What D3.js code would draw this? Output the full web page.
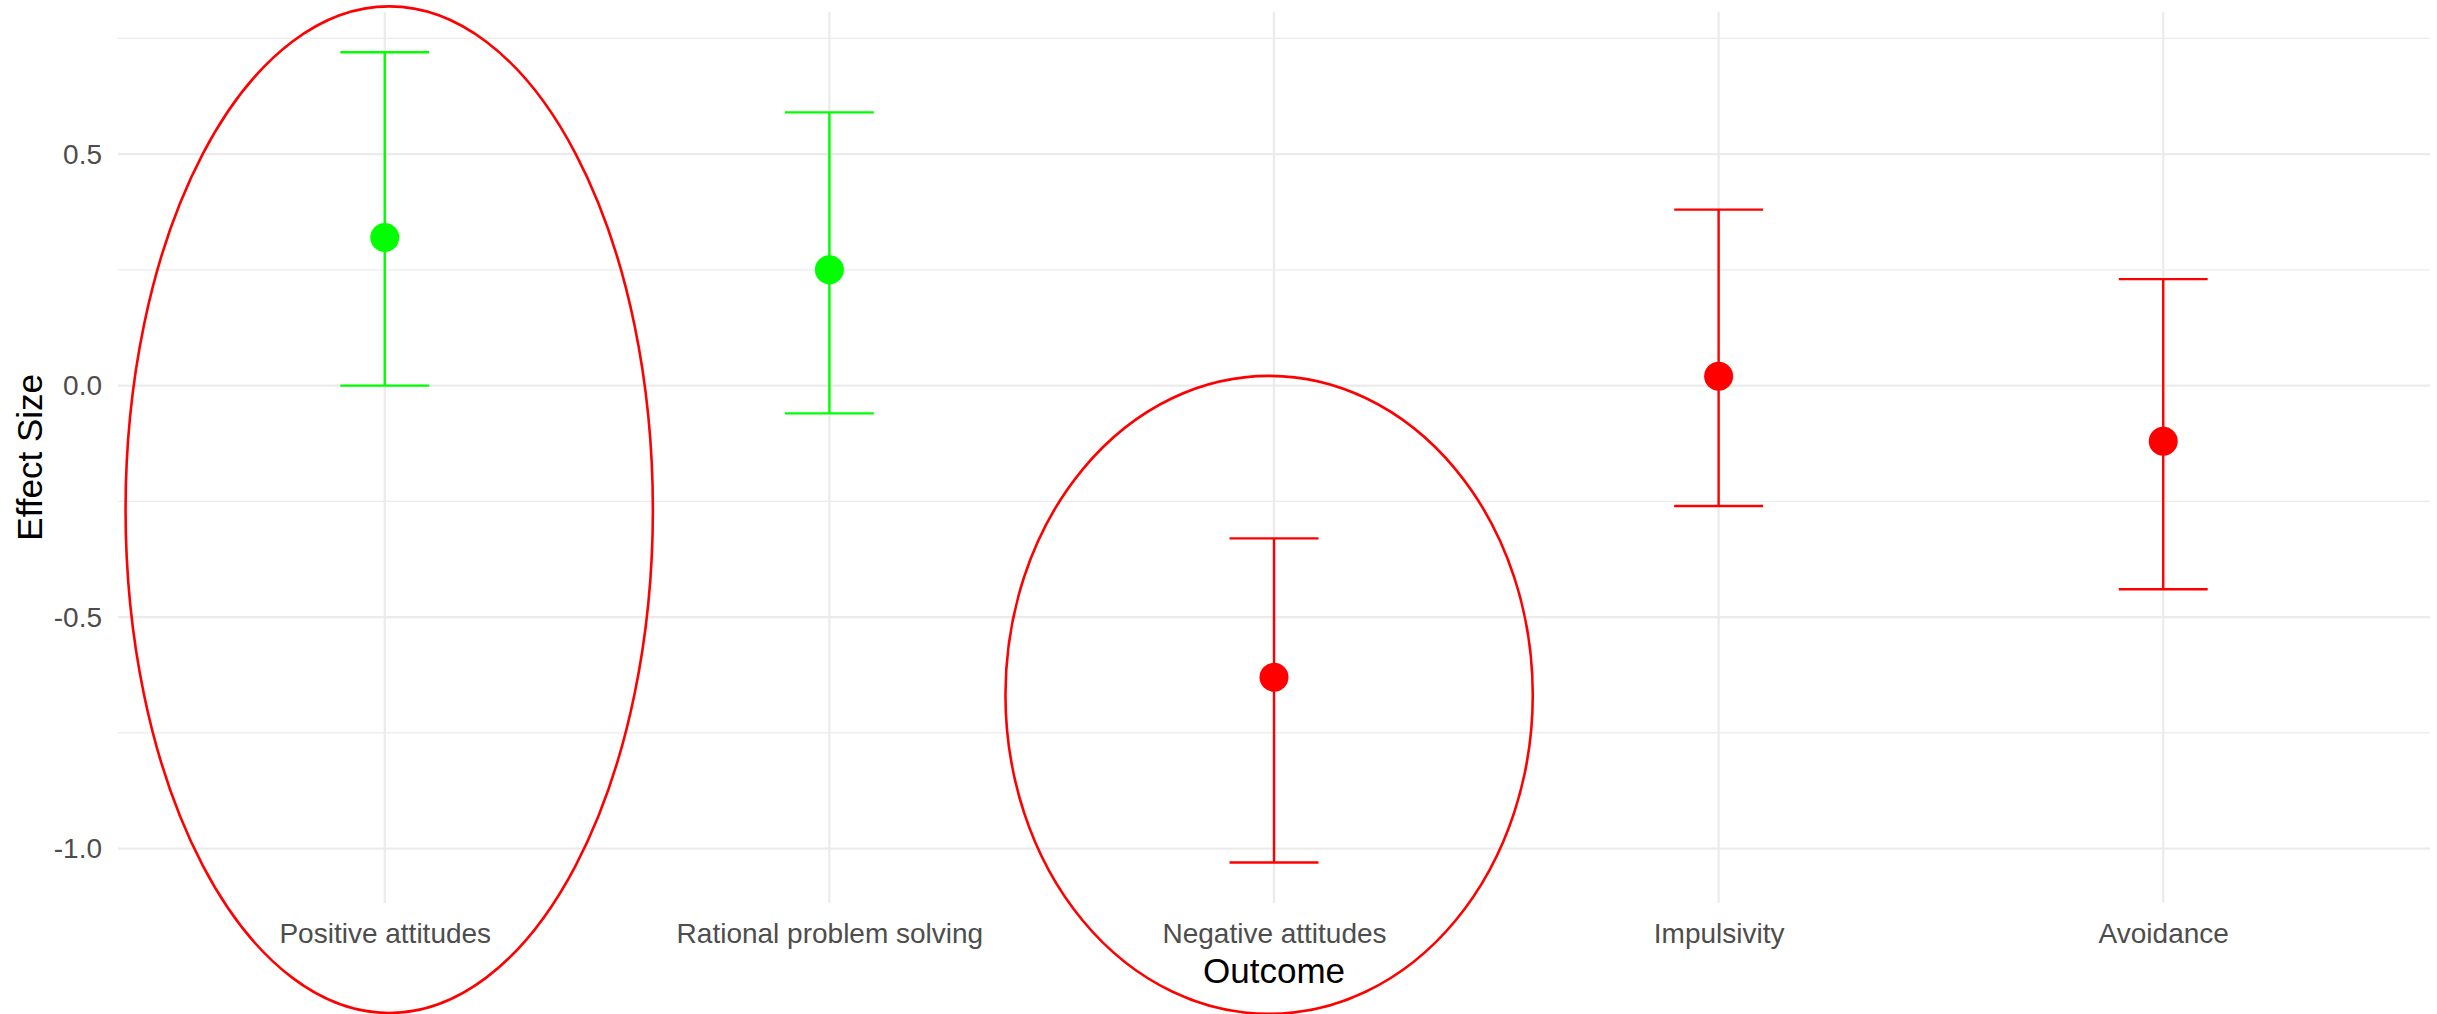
<!DOCTYPE html>
<html>
<head>
<meta charset="utf-8">
<script src="https://cdn.jsdelivr.net/npm/d3@7"></script>
<style>
  html, body { margin: 0; padding: 0; background: #ffffff; }
  svg { display: block; font-family: "Liberation Sans", Arial, sans-serif; }
</style>
</head>
<body>
<svg id="chart" width="2437" height="1014"></svg>
<script>
// Outcomes and their pooled effect sizes with 95% confidence limits
const outcomes = ["Positive attitudes", "Rational problem solving", "Negative attitudes", "Impulsivity", "Avoidance"];
const effect = [0.32, 0.25, -0.63, 0.02, -0.12];
const lower = [0.00, -0.06, -1.03, -0.26, -0.44];
const upper = [0.72, 0.59, -0.33, 0.38, 0.23];
const kind = ["adaptive", "adaptive", "maladaptive", "maladaptive", "maladaptive"];

// Axis ticks
const yMajorTicks = [-1.0, -0.5, 0.0, 0.5];
const yMinorTicks = [-0.75, -0.25, 0.25, 0.75];

// Highlight ellipses, in data units (centre offset from an outcome, half-axes)
const highlightOutcome = ["Positive attitudes", "Negative attitudes"];
const highlightDx = [0.01, -0.011];
const highlightCy = [-0.268, -0.668];
const highlightRx = [0.593, 0.593];
const highlightRy = [1.087, 0.689];

const rows = outcomes.map((o, i) => ({ outcome: o, est: effect[i], lo: lower[i], hi: upper[i], kind: kind[i] }));

const svg = d3.select("#chart");
const panel = { left: 118, right: 2430, top: 11.7, bottom: 903 };

const x = d3.scalePoint().domain(outcomes).range([panel.left, panel.right]).padding(0.6);
const step = x.step();

const yMin = d3.min(lower), yMax = d3.max(upper);
const pad = (yMax - yMin) * 0.05;
const y = d3.scaleLinear().domain([yMin - pad, yMax + pad]).range([panel.bottom, panel.top]);

const color = d3.scaleOrdinal().domain(["adaptive", "maladaptive"]).range(["#00ff00", "#ff0000"]);

// Grid
const grid = svg.append("g");
grid.selectAll("line.minor").data(yMinorTicks).join("line")
  .attr("x1", panel.left).attr("x2", panel.right)
  .attr("y1", d => y(d)).attr("y2", d => y(d))
  .attr("stroke", "#ebebeb").attr("stroke-width", 1.2);
grid.selectAll("line.major").data(yMajorTicks).join("line")
  .attr("x1", panel.left).attr("x2", panel.right)
  .attr("y1", d => y(d)).attr("y2", d => y(d))
  .attr("stroke", "#ebebeb").attr("stroke-width", 2.2);
grid.selectAll("line.vert").data(outcomes).join("line")
  .attr("x1", d => x(d)).attr("x2", d => x(d))
  .attr("y1", panel.top).attr("y2", panel.bottom)
  .attr("stroke", "#ebebeb").attr("stroke-width", 2.2);

// Axes (labels only)
const yAxis = svg.append("g")
  .attr("transform", `translate(${panel.left},0)`)
  .call(d3.axisLeft(y).tickValues(yMajorTicks).tickFormat(d3.format(".1f")).tickSize(0).tickPadding(16));
const xAxis = svg.append("g")
  .attr("transform", `translate(0,${panel.bottom})`)
  .call(d3.axisBottom(x).tickSize(0).tickPadding(20));
[yAxis, xAxis].forEach(a => {
  a.select(".domain").remove();
  a.selectAll("text").attr("font-size", 28).attr("fill", "#4d4d4d")
    .attr("font-family", "'Liberation Sans', Arial, sans-serif");
});
yAxis.selectAll("text").text(d => d < 0 ? "-" + d3.format(".1f")(-d) : d3.format(".1f")(d));

// Axis titles
svg.append("text")
  .attr("x", (panel.left + panel.right) / 2).attr("y", 983)
  .attr("text-anchor", "middle").attr("font-size", 35).attr("fill", "#000")
  .text("Outcome");
svg.append("text")
  .attr("transform", `translate(42,${(panel.top + panel.bottom) / 2}) rotate(-90)`)
  .attr("text-anchor", "middle").attr("font-size", 35).attr("fill", "#000")
  .text("Effect Size");

// Error bars
const bars = svg.append("g").selectAll("g").data(rows).join("g")
  .attr("stroke", d => color(d.kind)).attr("stroke-width", 2.4);
bars.append("line")
  .attr("x1", d => x(d.outcome)).attr("x2", d => x(d.outcome))
  .attr("y1", d => y(d.lo)).attr("y2", d => y(d.hi));
bars.append("line")
  .attr("x1", d => x(d.outcome) - step * 0.1).attr("x2", d => x(d.outcome) + step * 0.1)
  .attr("y1", d => y(d.hi)).attr("y2", d => y(d.hi));
bars.append("line")
  .attr("x1", d => x(d.outcome) - step * 0.1).attr("x2", d => x(d.outcome) + step * 0.1)
  .attr("y1", d => y(d.lo)).attr("y2", d => y(d.lo));

// Point estimates
svg.append("g").selectAll("circle").data(rows).join("circle")
  .attr("cx", d => x(d.outcome)).attr("cy", d => y(d.est))
  .attr("r", 14.5).attr("fill", d => color(d.kind));

// Highlight ellipses
const unitY = y(0) - y(1);
svg.append("g").selectAll("ellipse").data(highlightOutcome).join("ellipse")
  .attr("cx", (d, i) => x(d) + highlightDx[i] * step)
  .attr("cy", (d, i) => y(highlightCy[i]))
  .attr("rx", (d, i) => highlightRx[i] * step)
  .attr("ry", (d, i) => highlightRy[i] * unitY)
  .attr("fill", "none").attr("stroke", "#ff0000").attr("stroke-width", 2.6);
</script>
</body>
</html>
